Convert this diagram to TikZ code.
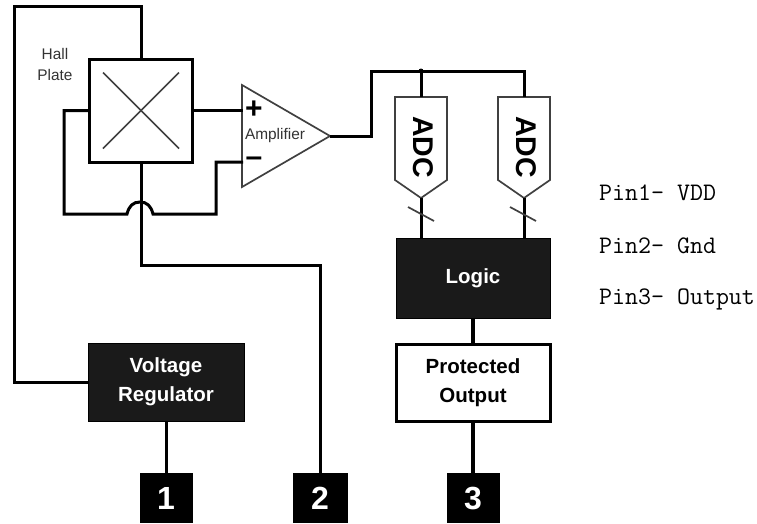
\documentclass[tikz,border=0pt]{standalone}
\usepackage{fontspec}
\setmainfont{Liberation Sans}
\setmonofont{Latin Modern Mono}
\definecolor{blockdark}{HTML}{1A1A1A}
\newcommand{\AdcBlock}[2]{%
  \begin{scope}[shift={(#2,97)}]
    \coordinate (#1top) at (0,0);
    \coordinate (#1tip) at (0,101);
    \draw[thinedge] (-26,0) -- (26,0) -- (26,83) -- (#1tip) -- (-26,83) -- cycle;
    \node[adclab] (#1lab) at (2,50) {ADC};
  \end{scope}
}
\begin{document}
\begin{tikzpicture}[
    x=1pt,y=-1pt,
    line cap=butt,
    line join=miter,
    wire/.style={draw=black, line width=3pt},
    thinedge/.style={draw=black!75, line width=1.7pt},
    darkblock/.style={rectangle,draw=black,fill=blockdark,line width=1pt,inner sep=0pt,
        text=white,font=\fontsize{20.5}{29}\selectfont\bfseries,align=center},
    whiteblock/.style={rectangle,draw=black,fill=white,line width=3pt,inner sep=0pt,
        font=\fontsize{20.5}{29}\selectfont\bfseries,align=center},
    pinbox/.style={rectangle,fill=black,inner sep=0pt,minimum height=50pt,
        text=white,font=\fontsize{32}{32}\selectfont\bfseries},
    smalllab/.style={inner sep=0pt,text=black!80,font=\fontsize{15.4}{21}\selectfont,align=center},
    adclab/.style={inner sep=0pt,rotate=-90,font=\fontsize{28.5}{29}\selectfont\bfseries},
    signlab/.style={inner sep=0pt,font=\fontsize{30}{30}\selectfont\bfseries},
    pinlab/.style={anchor=west,inner sep=0pt,font=\fontsize{25.2}{25.2}\selectfont\ttfamily}
]

\useasboundingbox (0,0) rectangle (757,523);

% wires below the blocks
\coordinate (corner) at (14,6);
\coordinate (hopL) at (127,214);
\coordinate (hopR) at (153,214);
\coordinate (ampPlus) at (243,110);
\coordinate (ampMinus) at (243,162);

\node[whiteblock,minimum width=103pt,minimum height=103pt] (hall) at (141,110.5) {};
\draw[thinedge] (hall.center) ++(-38,-38) -- ++(76,76);
\draw[thinedge] (hall.center) ++(-38,38) -- ++(76,-76);
\node[smalllab] (halllab) at (55,64) {Hall\\Plate};

\node[darkblock,minimum width=156pt,minimum height=78pt] (reg) at (166,382) {Voltage\\Regulator};
\node[darkblock,minimum width=154pt,minimum height=80pt] (logic) at (473,278) {Logic};
\node[whiteblock,minimum width=154pt,minimum height=77pt] (prot) at (473,382.5) {Protected\\Output};

\node[pinbox,minimum width=53pt] (pinA) at (166,498) {1};
\node[pinbox,minimum width=55pt] (pinB) at (320,498) {2};
\node[pinbox,minimum width=53pt] (pinC) at (473,498) {3};

\coordinate (ampTop) at (242,85);
\coordinate (ampBot) at (242,187);
\coordinate (ampTip) at (330,136);
\draw[thinedge] (ampTop) -- (ampTip) -- (ampBot) -- cycle;
\node[smalllab] (amplab) at (275,136) {Amplifier};
\node[signlab] (plus) at (254,110) {+};
\node[signlab] (minus) at (254,162) {--};

\AdcBlock{adcA}{421}
\AdcBlock{adcB}{524}

\draw[wire] (hall.north) |- (corner) |- (reg.west);
\draw[wire] (hall.west) -- (64,110.5) |- (hopL)
    .. controls (129,206) and (133,202) .. (140,202)
    .. controls (147,202) and (151,206) .. (hopR) -| (216,162) -- (ampMinus);
\draw[wire] (hall.south) |- (320,265) -- (pinB.north);
\draw[wire] (hall.east) -- (ampPlus |- hall.east);
\draw[wire] (ampTip) -- (371,136) |- (524,71) -- (adcBtop);
\draw[wire] (adcAtop |- 421,71) -- (adcAtop);
\fill (421,71) circle (2.5pt);
\draw[wire] (adcAtip) -- (logic.north -| adcAtip);
\draw[wire] (adcBtip) -- (logic.north -| adcBtip);
\draw[thinedge] (408,207) -- (434,221);
\draw[thinedge] (510,207) -- (536,221);
\draw[wire,line width=4pt] (logic.south) -- (prot.north);
\draw[wire,line width=4pt] (prot.south) -- (pinC.north);
\draw[wire] (reg.south) -- (pinA.north);

\node[pinlab] (pinlabA) at (599,193) {Pin1- VDD};
\node[pinlab] (pinlabB) at (599,246) {Pin2- Gnd};
\node[pinlab] (pinlabC) at (599,299) {Pin3- Output};

\end{tikzpicture}
\end{document}
